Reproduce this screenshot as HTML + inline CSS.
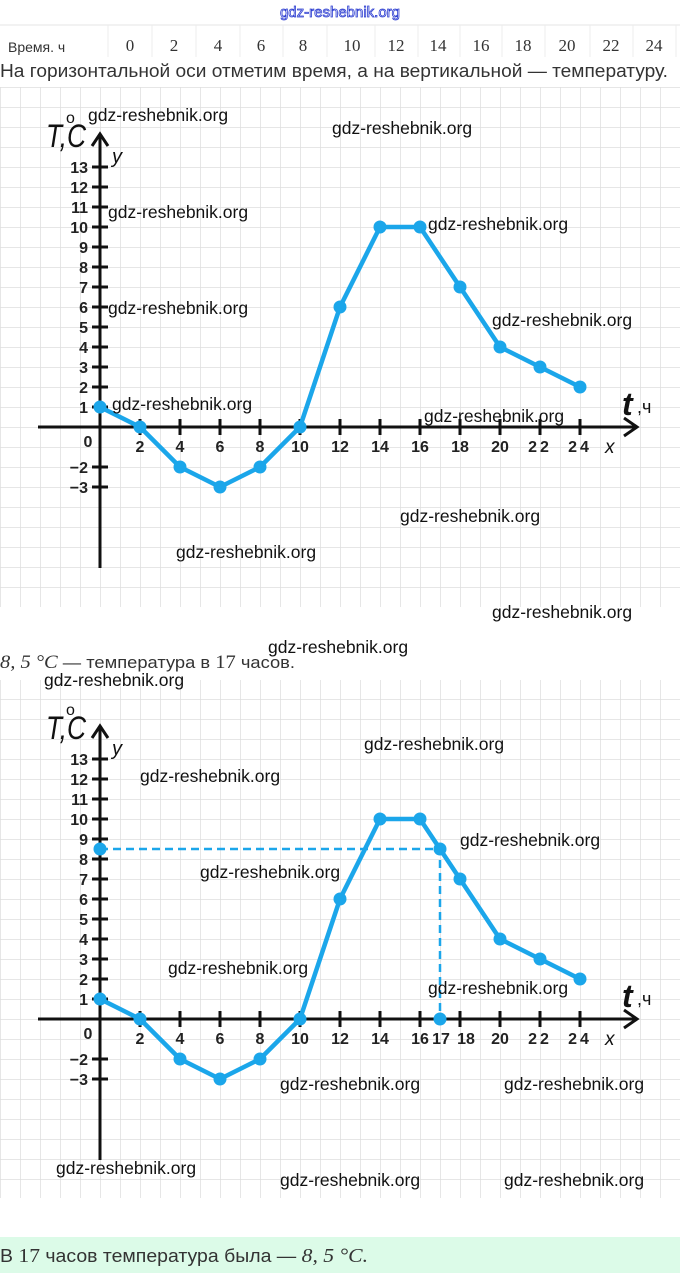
<!DOCTYPE html>
<html><head><meta charset="utf-8"><style>
html,body{margin:0;padding:0;background:#fff;}
svg{display:block;}
.wm{font-family:"Liberation Sans",sans-serif;font-size:17.5px;fill:#111;}
.tk{font-family:"Liberation Sans",sans-serif;font-size:16px;font-weight:bold;fill:#222;}
.ser{font-family:"Liberation Serif",serif;font-size:17px;fill:#333;}
.txt{font-family:"Liberation Sans",sans-serif;font-size:16px;fill:#333;}
</style></head><body>
<svg width="680" height="1273" viewBox="0 0 680 1273" xmlns="http://www.w3.org/2000/svg">
<defs>
<pattern id="g1" x="0" y="7" width="20" height="20" patternUnits="userSpaceOnUse"><path d="M0 0H20M0 0V20" stroke="#dedede" stroke-width="1.5" fill="none"/></pattern>
<pattern id="g2" x="0" y="19" width="20" height="20" patternUnits="userSpaceOnUse"><path d="M0 0H20M0 0V20" stroke="#dedede" stroke-width="1.5" fill="none"/></pattern>
</defs>
<text x="340" y="17" text-anchor="middle" style="font-family:'Liberation Sans',sans-serif;font-size:15px;fill:#fff;stroke:#2a3bd0;stroke-width:0.8">gdz-reshebnik.org</text>
<line x1="0" y1="25" x2="680" y2="25" stroke="#e6e6e6"/>
<g stroke="#ececec"><line x1="108" y1="25" x2="108" y2="57"/><line x1="152" y1="25" x2="152" y2="57"/><line x1="196" y1="25" x2="196" y2="57"/><line x1="240" y1="25" x2="240" y2="57"/><line x1="283" y1="25" x2="283" y2="57"/><line x1="327" y1="25" x2="327" y2="57"/><line x1="375" y1="25" x2="375" y2="57"/><line x1="418" y1="25" x2="418" y2="57"/><line x1="460" y1="25" x2="460" y2="57"/><line x1="502" y1="25" x2="502" y2="57"/><line x1="545" y1="25" x2="545" y2="57"/><line x1="590" y1="25" x2="590" y2="57"/><line x1="633" y1="25" x2="633" y2="57"/><line x1="676" y1="25" x2="676" y2="57"/></g>
<text x="8" y="52" style="font-family:'Liberation Sans',sans-serif;font-size:14px;fill:#333">Время. ч</text>
<g class="ser" text-anchor="middle">
<text x="130" y="51">0</text><text x="174" y="51">2</text><text x="218" y="51">4</text><text x="261" y="51">6</text><text x="303" y="51">8</text><text x="352" y="51">10</text><text x="396" y="51">12</text><text x="438" y="51">14</text><text x="481" y="51">16</text><text x="523" y="51">18</text><text x="567" y="51">20</text><text x="611" y="51">22</text><text x="654" y="51">24</text></g>
<text x="0" y="77" class="txt" textLength="668" lengthAdjust="spacingAndGlyphs" style="font-size:18px">На горизонтальной оси отметим время, а на вертикальной — температуру.</text>

<rect x="0" y="87" width="680" height="520" fill="url(#g1)"/>
<rect x="0" y="680" width="680" height="518" fill="url(#g2)"/>

<g transform="translate(100,427)">
<g stroke="#111" stroke-width="3" fill="none">
<line x1="0" y1="-293" x2="0" y2="141"/><polyline points="-8,-281 0,-293 8,-281"/>
<line x1="-62" y1="0" x2="536" y2="0"/><polyline points="524,-9 537,0 524,9"/>
<path d="M-8 -20H8M-8 -40H8M-8 -60H8M-8 -80H8M-8 -100H8M-8 -120H8M-8 -140H8M-8 -160H8M-8 -180H8M-8 -200H8M-8 -220H8M-8 -240H8M-8 -260H8M-8 40H8M-8 60H8"/>
<path d="M40 -8V8M80 -8V8M120 -8V8M160 -8V8M200 -8V8M240 -8V8M280 -8V8M320 -8V8M360 -8V8M400 -8V8M440 -8V8M480 -8V8"/>
</g>
<g class="tk" text-anchor="end">
<text x="-12" y="-254">13</text><text x="-12" y="-234">12</text><text x="-12" y="-214">11</text><text x="-12" y="-194">10</text><text x="-12" y="-174">9</text><text x="-12" y="-154">8</text><text x="-12" y="-134">7</text><text x="-12" y="-114">6</text><text x="-12" y="-94">5</text><text x="-12" y="-74">4</text><text x="-12" y="-54">3</text><text x="-12" y="-34">2</text><text x="-12" y="-14">1</text><text x="-12" y="46">−2</text><text x="-12" y="66">−3</text></g>
<g class="tk" text-anchor="middle">
<text x="-12" y="20">0</text><text x="40" y="25">2</text><text x="80" y="25">4</text><text x="120" y="25">6</text><text x="160" y="25">8</text><text x="200" y="25">10</text><text x="240" y="25">12</text><text x="280" y="25">14</text><text x="320" y="25">16</text><text x="360" y="25">18</text><text x="400" y="25">20</text><text x="440" y="25" letter-spacing="3">22</text><text x="480" y="25" letter-spacing="3">24</text></g>
<text x="-54" y="-280" textLength="40" lengthAdjust="spacingAndGlyphs" style="font-family:'Liberation Sans',sans-serif;font-size:32px;font-style:italic;fill:#111">T,C</text>
<text x="-34" y="-304" style="font-family:'Liberation Sans',sans-serif;font-size:16px;fill:#111">o</text>
<text x="12" y="-264" style="font-family:'Liberation Sans',sans-serif;font-size:20px;font-style:italic;fill:#111">y</text>
<text x="522" y="-12" style="font-family:'Liberation Sans',sans-serif;font-size:32px;font-style:italic;font-weight:bold;fill:#111">t</text>
<text x="537" y="-14" style="font-family:'Liberation Sans',sans-serif;font-size:18px;fill:#111">,ч</text>
<text x="505" y="26" style="font-family:'Liberation Sans',sans-serif;font-size:19px;font-style:italic;fill:#111">x</text>
<polyline points="0,-20 40,0 80,40 120,60 160,40 200,0 240,-120 280,-200 320,-200 360,-140 400,-80 440,-60 480,-40" fill="none" stroke="#1ba6ea" stroke-width="4.5" stroke-linejoin="round"/>
<g fill="#1ba6ea"><circle cx="0" cy="-20" r="6.5"/><circle cx="40" cy="0" r="6.5"/><circle cx="80" cy="40" r="6.5"/><circle cx="120" cy="60" r="6.5"/><circle cx="160" cy="40" r="6.5"/><circle cx="200" cy="0" r="6.5"/><circle cx="240" cy="-120" r="6.5"/><circle cx="280" cy="-200" r="6.5"/><circle cx="320" cy="-200" r="6.5"/><circle cx="360" cy="-140" r="6.5"/><circle cx="400" cy="-80" r="6.5"/><circle cx="440" cy="-60" r="6.5"/><circle cx="480" cy="-40" r="6.5"/></g>
</g>

<g transform="translate(100,1019)">
<g stroke="#111" stroke-width="3" fill="none">
<line x1="0" y1="-293" x2="0" y2="141"/><polyline points="-8,-281 0,-293 8,-281"/>
<line x1="-62" y1="0" x2="536" y2="0"/><polyline points="524,-9 537,0 524,9"/>
<path d="M-8 -20H8M-8 -40H8M-8 -60H8M-8 -80H8M-8 -100H8M-8 -120H8M-8 -140H8M-8 -160H8M-8 -180H8M-8 -200H8M-8 -220H8M-8 -240H8M-8 -260H8M-8 40H8M-8 60H8"/>
<path d="M40 -8V8M80 -8V8M120 -8V8M160 -8V8M200 -8V8M240 -8V8M280 -8V8M320 -8V8M360 -8V8M400 -8V8M440 -8V8M480 -8V8"/>
</g>
<g class="tk" text-anchor="end">
<text x="-12" y="-254">13</text><text x="-12" y="-234">12</text><text x="-12" y="-214">11</text><text x="-12" y="-194">10</text><text x="-12" y="-174">9</text><text x="-12" y="-154">8</text><text x="-12" y="-134">7</text><text x="-12" y="-114">6</text><text x="-12" y="-94">5</text><text x="-12" y="-74">4</text><text x="-12" y="-54">3</text><text x="-12" y="-34">2</text><text x="-12" y="-14">1</text><text x="-12" y="46">−2</text><text x="-12" y="66">−3</text></g>
<g class="tk" text-anchor="middle">
<text x="-12" y="20">0</text><text x="40" y="25">2</text><text x="80" y="25">4</text><text x="120" y="25">6</text><text x="160" y="25">8</text><text x="200" y="25">10</text><text x="240" y="25">12</text><text x="280" y="25">14</text><text x="320" y="25">16</text><text x="341" y="25">17</text><text x="366" y="25">18</text><text x="400" y="25">20</text><text x="440" y="25" letter-spacing="3">22</text><text x="480" y="25" letter-spacing="3">24</text></g>
<text x="-54" y="-280" textLength="40" lengthAdjust="spacingAndGlyphs" style="font-family:'Liberation Sans',sans-serif;font-size:32px;font-style:italic;fill:#111">T,C</text>
<text x="-34" y="-304" style="font-family:'Liberation Sans',sans-serif;font-size:16px;fill:#111">o</text>
<text x="12" y="-264" style="font-family:'Liberation Sans',sans-serif;font-size:20px;font-style:italic;fill:#111">y</text>
<text x="522" y="-12" style="font-family:'Liberation Sans',sans-serif;font-size:32px;font-style:italic;font-weight:bold;fill:#111">t</text>
<text x="537" y="-14" style="font-family:'Liberation Sans',sans-serif;font-size:18px;fill:#111">,ч</text>
<text x="505" y="26" style="font-family:'Liberation Sans',sans-serif;font-size:19px;font-style:italic;fill:#111">x</text>
<polyline points="0,-170 340,-170 340,0" fill="none" stroke="#1ba6ea" stroke-width="2.5" stroke-dasharray="8,5"/>
<polyline points="0,-20 40,0 80,40 120,60 160,40 200,0 240,-120 280,-200 320,-200 360,-140 400,-80 440,-60 480,-40" fill="none" stroke="#1ba6ea" stroke-width="4.5" stroke-linejoin="round"/>
<g fill="#1ba6ea"><circle cx="0" cy="-20" r="6.5"/><circle cx="40" cy="0" r="6.5"/><circle cx="80" cy="40" r="6.5"/><circle cx="120" cy="60" r="6.5"/><circle cx="160" cy="40" r="6.5"/><circle cx="200" cy="0" r="6.5"/><circle cx="240" cy="-120" r="6.5"/><circle cx="280" cy="-200" r="6.5"/><circle cx="320" cy="-200" r="6.5"/><circle cx="360" cy="-140" r="6.5"/><circle cx="400" cy="-80" r="6.5"/><circle cx="440" cy="-60" r="6.5"/><circle cx="480" cy="-40" r="6.5"/><circle cx="0" cy="-170" r="6.5"/><circle cx="340" cy="-170" r="6.5"/><circle cx="340" cy="0" r="6.5"/></g>
</g>

<text x="0" y="668" class="txt" textLength="295" lengthAdjust="spacingAndGlyphs" style="font-size:17px"><tspan style="font-family:'Liberation Serif',serif;font-size:19px;font-style:italic">8, 5 °C</tspan> — температура в <tspan style="font-family:'Liberation Serif',serif;font-size:19px">17</tspan> часов.</text>
<rect x="0" y="1237" width="680" height="36" fill="#dcfbe8"/>
<text x="0" y="1262" class="txt" textLength="368" lengthAdjust="spacingAndGlyphs" style="font-size:18px">В <tspan style="font-family:'Liberation Serif',serif;font-size:20px">17</tspan> часов температура была — <tspan style="font-family:'Liberation Serif',serif;font-size:20px;font-style:italic">8, 5 °C.</tspan></text>

<g class="wm">
<text x="88" y="121">gdz-reshebnik.org</text><text x="332" y="134">gdz-reshebnik.org</text>
<text x="108" y="218">gdz-reshebnik.org</text><text x="428" y="230">gdz-reshebnik.org</text>
<text x="108" y="314">gdz-reshebnik.org</text><text x="492" y="326">gdz-reshebnik.org</text>
<text x="112" y="410">gdz-reshebnik.org</text><text x="424" y="422">gdz-reshebnik.org</text>
<text x="400" y="522">gdz-reshebnik.org</text><text x="176" y="558">gdz-reshebnik.org</text>
<text x="492" y="618">gdz-reshebnik.org</text><text x="268" y="653">gdz-reshebnik.org</text>
<text x="44" y="686">gdz-reshebnik.org</text>
<text x="364" y="750">gdz-reshebnik.org</text><text x="140" y="782">gdz-reshebnik.org</text>
<text x="460" y="846">gdz-reshebnik.org</text><text x="200" y="878">gdz-reshebnik.org</text>
<text x="168" y="974">gdz-reshebnik.org</text><text x="428" y="994">gdz-reshebnik.org</text>
<text x="280" y="1090">gdz-reshebnik.org</text><text x="504" y="1090">gdz-reshebnik.org</text>
<text x="56" y="1174">gdz-reshebnik.org</text><text x="280" y="1186">gdz-reshebnik.org</text><text x="504" y="1186">gdz-reshebnik.org</text>
</g>
</svg>
</body></html>
